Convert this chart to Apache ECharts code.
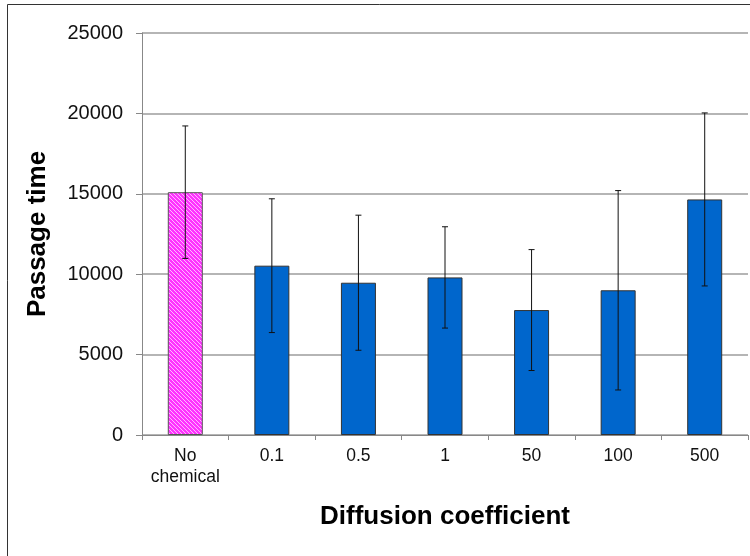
<!DOCTYPE html>
<html>
<head>
<meta charset="utf-8">
<script src="https://cdn.jsdelivr.net/npm/echarts@6/dist/echarts.min.js"></script>
<style>html,body{margin:0;padding:0;background:#fff;}#c{width:750px;height:556px;}</style>
</head>
<body>
<div id="c"></div>
<script>
const categories = ['No\nchemical', '0.1', '0.5', '1', '50', '100', '500'];
const meanValues = [15100, 10530, 9470, 9800, 7770, 9000, 14650];
const errorValues = [4120, 4160, 4200, 3150, 3760, 6200, 5380];
const yTicks = [0, 5000, 10000, 15000, 20000, 25000];

// hatched pattern for the control bar
const pc = document.createElement('canvas');
pc.width = 4; pc.height = 4;
const pctx = pc.getContext('2d');
pctx.fillStyle = '#ff33ff';
pctx.fillRect(0, 0, 4, 4);
pctx.strokeStyle = '#ffbbff';
pctx.lineWidth = 1;
pctx.beginPath();
pctx.moveTo(0, 0); pctx.lineTo(4, 4);
pctx.moveTo(-2, 2); pctx.lineTo(2, 6);
pctx.moveTo(2, -2); pctx.lineTo(6, 2);
pctx.stroke();

const barData = meanValues.map((v, i) => ({
  value: v,
  itemStyle: i === 0 ? { color: { image: pc, repeat: 'repeat' }, borderColor: '#555', borderWidth: 1 } : undefined
}));
const errData = meanValues.map((v, i) => [i, v - errorValues[i], v + errorValues[i]]);

const chart = echarts.init(document.getElementById('c'));
chart.setOption({
  animation: false,
  backgroundColor: '#fff',
  graphic: [{
    type: 'rect', shape: { x: 7.5, y: 4.5, width: 800, height: 600 },
    style: { fill: 'none', stroke: '#333', lineWidth: 1 }, z: -1
  }],
  grid: { left: 142, top: 33, right: 2, bottom: 121 },
  xAxis: {
    type: 'category', data: categories,
    name: 'Diffusion coefficient', nameLocation: 'middle', nameGap: 69,
    nameTextStyle: { fontFamily: 'Liberation Sans', fontWeight: 'bold', fontSize: 26, color: '#000' },
    axisLine: { lineStyle: { color: '#888', width: 1 } },
    axisTick: { show: true, length: 5, lineStyle: { color: '#888' } },
    axisLabel: { interval: 0, fontFamily: 'Liberation Sans', fontSize: 17.5, color: '#111', lineHeight: 21, margin: 11 }
  },
  yAxis: {
    type: 'value', min: 0, max: 25000, interval: 5000,
    name: 'Passage time', nameLocation: 'middle', nameGap: 91, nameRotate: 90,
    nameTextStyle: { fontFamily: 'Liberation Sans', fontWeight: 'bold', fontSize: 26, color: '#000' },
    axisLine: { show: true, lineStyle: { color: '#888', width: 1 } },
    axisTick: { show: true, length: 6, lineStyle: { color: '#888' } },
    axisLabel: { fontFamily: 'Liberation Sans', fontSize: 20, color: '#111', margin: 19,
      formatter: v => yTicks.includes(v) ? String(v) : '' },
    splitLine: { show: true, lineStyle: { color: '#9c9c9c', width: 1.5 } }
  },
  series: [{
    type: 'bar', data: barData, barWidth: 35,
    itemStyle: { color: '#0066cc', borderColor: '#333', borderWidth: 1 }
  }, {
    type: 'custom', data: errData, z: 10,
    renderItem: function (params, api) {
      const x = api.coord([api.value(0), 0])[0];
      const lo = api.coord([api.value(0), api.value(1)])[1];
      const hi = api.coord([api.value(0), api.value(2)])[1];
      const st = { stroke: '#111', lineWidth: 1 };
      return { type: 'group', children: [
        { type: 'line', shape: { x1: x, y1: lo, x2: x, y2: hi }, style: st },
        { type: 'line', shape: { x1: x - 3, y1: lo, x2: x + 3, y2: lo }, style: st },
        { type: 'line', shape: { x1: x - 3, y1: hi, x2: x + 3, y2: hi }, style: st }
      ]};
    }
  }]
});
</script>
</body>
</html>
